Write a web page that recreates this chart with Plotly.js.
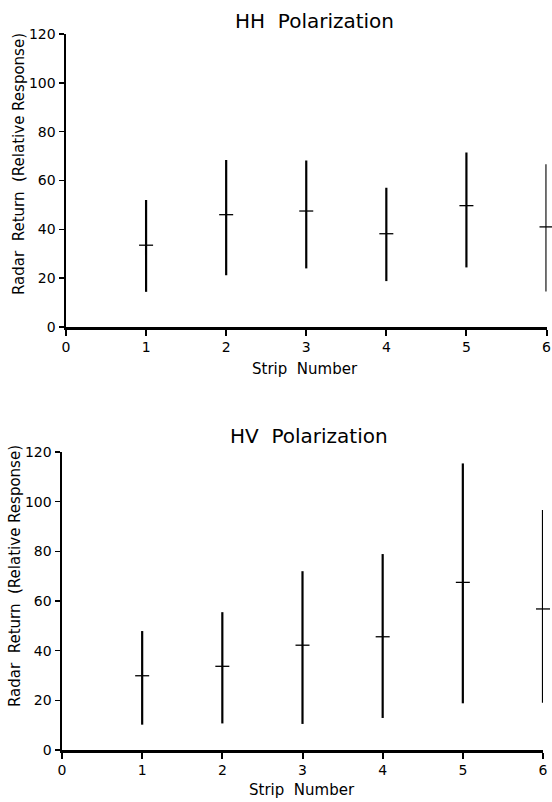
<!DOCTYPE html>
<html>
<head>
<meta charset="utf-8">
<script src="https://cdn.plot.ly/plotly-3.0.1.min.js"></script>
<style>html,body{margin:0;padding:0;background:#fff;}#chart{width:552px;height:802px;}</style>
</head>
<body>
<div id="chart"></div>
<script>
// Strip numbers
const strips = [1, 2, 3, 4, 5, 6];

// HH polarization: mean, top of range, bottom of range
const hhMean = [33.5, 46, 47.5, 38.2, 49.7, 41];
const hhTop = [52, 68.4, 68.2, 57, 71.5, 66.7];
const hhBottom = [14.4, 21.2, 24, 18.8, 24.4, 14.5];

// HV polarization: mean, top of range, bottom of range
const hvMean = [29.9, 33.7, 42.2, 45.6, 67.5, 56.8];
const hvTop = [47.9, 55.5, 72, 78.9, 115.4, 96.6];
const hvBottom = [10.2, 10.7, 10.5, 12.9, 18.8, 19];

const xTicks = [0, 1, 2, 3, 4, 5, 6];
const yTicks = [0, 20, 40, 60, 80, 100, 120];

const FONT = 'DejaVu Sans, Liberation Sans, Arial, sans-serif';

function rangeTrace(mean, top, bottom, xa, ya) {
  return {
    type: 'scatter', mode: 'markers', x: strips, y: mean,
    xaxis: xa, yaxis: ya, showlegend: false, hoverinfo: 'skip', cliponaxis: false,
    marker: {symbol: 'line-ew', size: 10, color: 'black', line: {color: 'black', width: 1.3}},
    error_y: {
      type: 'data', symmetric: false,
      array: top.map((t, i) => t - mean[i]),
      arrayminus: bottom.map((b, i) => mean[i] - b),
      width: 0, thickness: 2.2, color: 'black'
    }
  };
}

const data = [
  rangeTrace(hhMean, hhTop, hhBottom, 'x', 'y'),
  rangeTrace(hvMean, hvTop, hvBottom, 'x2', 'y2')
];

function xAxis(domain, anchor) {
  return {
    domain: domain, anchor: anchor, range: [0, 6], tickvals: xTicks,
    showgrid: false, zeroline: false, showline: true, linecolor: 'black', linewidth: 2.5,
    ticks: 'outside', ticklen: 6, tickwidth: 2, tickcolor: 'black',
    tickfont: {family: FONT, size: 14, color: 'black'}, fixedrange: true
  };
}
function yAxis(domain, anchor) {
  return {
    domain: domain, anchor: anchor, range: [0, 120], tickvals: yTicks,
    showgrid: false, zeroline: false, showline: true, linecolor: 'black', linewidth: 2.5,
    ticks: 'outside', ticklen: 5, tickwidth: 1.5, tickcolor: 'black',
    tickfont: {family: FONT, size: 14, color: 'black'}, fixedrange: true
  };
}

function ann(text, x, y, size, angle) {
  return {
    text: text, xref: 'paper', yref: 'paper', x: x, y: y,
    xanchor: 'center', yanchor: 'middle', showarrow: false,
    textangle: angle || 0, font: {family: FONT, size: size, color: 'black'}
  };
}

const layout = {
  width: 552, height: 802,
  margin: {l: 0, r: 0, t: 0, b: 0},
  paper_bgcolor: 'white', plot_bgcolor: 'white',
  showlegend: false,
  xaxis: xAxis([66/552, 546.5/552], 'y'),
  yaxis: yAxis([(802-327)/802, (802-34)/802], 'x'),
  xaxis2: xAxis([62/552, 543/552], 'y2'),
  yaxis2: yAxis([(802-750)/802, (802-452)/802], 'x2'),
  annotations: [
    ann('HH&nbsp;&nbsp;Polarization', 314/552, (802-21)/802, 20),
    ann('HV&nbsp;&nbsp;Polarization', 309/552, (802-436)/802, 20),
    ann('Strip&nbsp;&nbsp;Number', 305/552, (802-369)/802, 15),
    ann('Strip&nbsp;&nbsp;Number', 302/552, (802-790)/802, 15),
    ann('Radar&nbsp;&nbsp;Return&nbsp;&nbsp;(Relative&nbsp;Response)', 19/552, (802-164)/802, 15, -90),
    ann('Radar&nbsp;&nbsp;Return&nbsp;&nbsp;(Relative&nbsp;Response)', 15/552, (802-576)/802, 15, -90)
  ]
};

Plotly.newPlot('chart', data, layout, {displayModeBar: false, staticPlot: true});
</script>
</body>
</html>
